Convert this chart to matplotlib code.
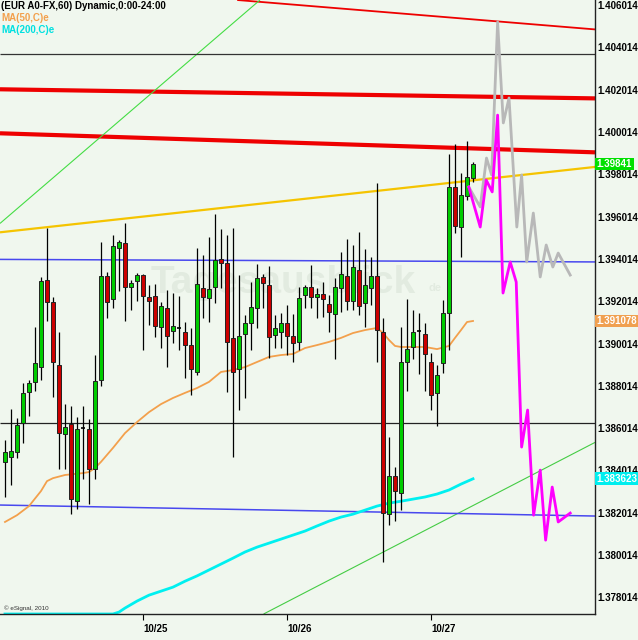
import numpy as np
import matplotlib.pyplot as plt

# hourly EUR/USD bars (bar index 0 = first bar on the chart)
opens = [1.38442, 1.38465, 1.38489, 1.38626, 1.38773, 1.38820, 1.38890, 1.39301, 1.39198, 1.38899,
         1.38573, 1.38621, 1.38256, 1.38602, 1.38597, 1.38408, 1.38829, 1.39321, 1.39212, 1.39452,
         1.39477, 1.39268, 1.39296, 1.39325, 1.39221, 1.39226, 1.39079, 1.39169, 1.39060, 1.39075,
         1.39056, 1.38994, 1.38867, 1.39263, 1.39216, 1.39268, 1.39401, 1.39382, 1.39028, 1.38881,
         1.39046, 1.39098, 1.39169, 1.39316, 1.39277, 1.39041, 1.39056, 1.39098, 1.39037, 1.39009,
         1.39230, 1.39268, 1.39221, 1.39235, 1.39188, 1.39141, 1.39263, 1.39321, 1.39202, 1.39349,
         1.39193, 1.39263, 1.39321, 1.39056, 1.38195, 1.38375, 1.38295, 1.38914, 1.38985, 1.39060,
         1.39046, 1.38914, 1.38768, 1.38909, 1.39146, 1.39741, 1.39552, 1.39699, 1.39784]
highs = [1.38545, 1.38691, 1.38649, 1.38815, 1.38829, 1.39079, 1.39316, 1.39547, 1.39221, 1.39056,
         1.38715, 1.38706, 1.38654, 1.38706, 1.38645, 1.38947, 1.39482, 1.39340, 1.39514, 1.39491,
         1.39571, 1.39301, 1.39335, 1.39330, 1.39277, 1.39282, 1.39198, 1.39254, 1.39240, 1.39226,
         1.39103, 1.39075, 1.39452, 1.39419, 1.39505, 1.39613, 1.39543, 1.39514, 1.39547, 1.39325,
         1.39136, 1.39292, 1.39377, 1.39330, 1.39368, 1.39136, 1.39146, 1.39183, 1.39141, 1.39268,
         1.39277, 1.39372, 1.39263, 1.39292, 1.39230, 1.39311, 1.39434, 1.39496, 1.39467, 1.39529,
         1.39448, 1.39410, 1.39760, 1.39122, 1.38559, 1.38418, 1.39079, 1.39212, 1.39160, 1.39146,
         1.39098, 1.38957, 1.38899, 1.39207, 1.39897, 1.39944, 1.39807, 1.39958, 1.39859]
lows = [1.38276, 1.38332, 1.38460, 1.38531, 1.38659, 1.38777, 1.38829, 1.39107, 1.38749, 1.38408,
        1.38408, 1.38195, 1.38219, 1.38361, 1.38242, 1.38361, 1.38801, 1.39122, 1.39169, 1.39249,
        1.39107, 1.39160, 1.39202, 1.38971, 1.39089, 1.39032, 1.38980, 1.38890, 1.39004, 1.38971,
        1.38838, 1.38758, 1.38852, 1.39122, 1.39103, 1.39193, 1.39263, 1.38773, 1.38465, 1.38687,
        1.38744, 1.38971, 1.39075, 1.39169, 1.38933, 1.38980, 1.38980, 1.38947, 1.38914, 1.38971,
        1.39169, 1.39169, 1.39122, 1.39127, 1.39056, 1.38928, 1.39150, 1.39160, 1.39160, 1.39136,
        1.39079, 1.39183, 1.38914, 1.37969, 1.38143, 1.38162, 1.38214, 1.38777, 1.38928, 1.38857,
        1.38777, 1.38687, 1.38611, 1.38862, 1.38971, 1.39524, 1.39410, 1.39680, 1.39765]
closes = [1.38489, 1.38493, 1.38616, 1.38768, 1.38815, 1.38909, 1.39296, 1.39198, 1.38914, 1.38578,
          1.38607, 1.38266, 1.38597, 1.38603, 1.38408, 1.38824, 1.39321, 1.39198, 1.39462, 1.39482,
          1.39268, 1.39287, 1.39325, 1.39226, 1.39202, 1.39084, 1.39179, 1.39037, 1.39084, 1.39076,
          1.38994, 1.38881, 1.39282, 1.39221, 1.39259, 1.39396, 1.39382, 1.39009, 1.38867, 1.39037,
          1.39098, 1.39174, 1.39311, 1.39287, 1.39032, 1.39075, 1.39098, 1.39037, 1.39004, 1.39216,
          1.39268, 1.39221, 1.39235, 1.39212, 1.39150, 1.39268, 1.39330, 1.39202, 1.39363, 1.39179,
          1.39277, 1.39321, 1.39065, 1.38200, 1.38375, 1.38304, 1.38914, 1.38975, 1.39056, 1.39061,
          1.38952, 1.38758, 1.38852, 1.39146, 1.39741, 1.39557, 1.39703, 1.39788, 1.39850]

# moving averages
ma50_idx = [0, 2, 4, 6, 7, 8, 10, 13, 14, 15, 16, 18, 20, 22, 24, 26, 28, 30, 32, 34,
            36, 38, 40, 42, 44, 46, 48, 50, 52, 54, 56, 58, 60, 62, 63, 64, 65, 66, 70, 72,
            74, 75, 76, 77, 78]
ma50_val = [1.38158, 1.38190, 1.38233, 1.38304, 1.38351, 1.38365, 1.38380, 1.38389, 1.38394, 1.38413,
            1.38442, 1.38508, 1.38578, 1.38630, 1.38677, 1.38715, 1.38744, 1.38768, 1.38791, 1.38820,
            1.38867, 1.38876, 1.38890, 1.38914, 1.38938, 1.38947, 1.38952, 1.38980, 1.38994, 1.39009,
            1.39028, 1.39051, 1.39065, 1.39075, 1.39051, 1.39018, 1.38990, 1.38985, 1.38985, 1.38975,
            1.38990, 1.39028, 1.39065, 1.39103, 1.39108]
ma200_idx = [0, 18, 19, 20, 22, 24, 26, 28, 30, 32, 34, 36, 38, 40, 42, 44, 46, 48, 50, 52,
             54, 56, 58, 60, 62, 64, 66, 68, 70, 72, 74, 76, 78]
ma200_val = [1.37723, 1.37723, 1.37732, 1.37751, 1.37784, 1.37812, 1.37831, 1.37850, 1.37878, 1.37903,
             1.37931, 1.37959, 1.37987, 1.38016, 1.38039, 1.38058, 1.38077, 1.38096, 1.38115, 1.38139,
             1.38162, 1.38181, 1.38195, 1.38214, 1.38233, 1.38247, 1.38256, 1.38266, 1.38276, 1.38290,
             1.38309, 1.38337, 1.38362]

# projected paths
magenta_idx = [77.3, 79.2, 80.2, 81.2, 82.1, 83.0, 84.2, 85.2, 86.1, 87.1, 88.1, 89.2, 90.1, 91.2, 92.2, 94.2]
magenta_val = [1.39741, 1.39552, 1.39774, 1.39718, 1.40081, 1.39240, 1.39387, 1.39292,
               1.38512, 1.38687, 1.38190, 1.38403, 1.38072, 1.38323, 1.38158, 1.38200]
gray_idx = [77.3, 79.2, 80.25, 81.1, 82.1, 83.05, 84.0, 85.3, 86.1, 86.95, 88.05, 89.2, 90.2, 91.3, 92.2, 94.2]
gray_val = [1.39741, 1.39647, 1.39878, 1.39798, 1.40521, 1.40044, 1.40162, 1.39552,
            1.39798, 1.39387, 1.39618, 1.39316, 1.39467, 1.39363, 1.39429, 1.39325]

# drawn trend lines: (x1, y1, x2, y2, colour, width)
trend_lines = [
    (38.7, 1.40625, 98.33, 1.40486, "#ee0000", 1.3),
    (-0.83, 1.40203, 98.33, 1.40160, "#ee0000", 3.0),
    (-0.83, 1.39995, 98.33, 1.39905, "#ee0000", 3.0),
    (-0.83, 1.39527, 98.33, 1.39836, "#f5c400", 1.6),
    (-0.83, 1.39569, 42.5, 1.40625, "#44dd44", 0.8),
    (43.1, 1.37723, 98.33, 1.38534, "#44cc44", 0.8),
    (-0.83, 1.39399, 98.33, 1.39387, "#4848ee", 1.1),
    (-0.83, 1.38238, 98.33, 1.38186, "#4848ee", 1.1),
    (-0.83, 1.40368, 98.33, 1.40368, "#333333", 0.9),
    (-0.83, 1.38624, 98.33, 1.38624, "#222222", 0.9),
]

yticks = [1.378014 + 0.002 * k for k in range(15)]
day_idx = [23, 47, 71]
day_labels = ["10/25", "10/26", "10/27"]

bg = "#f0f7ee"
plt.rcParams["font.family"] = ["Liberation Sans", "DejaVu Sans"]

fig = plt.figure(figsize=(6.38, 6.40), dpi=100, facecolor=bg)
ax = fig.add_axes([0, 26 / 640, 595 / 638, 614 / 640], facecolor=bg)

# watermark
ax.text(24.2, 1.39287, "Tagesausblick", fontsize=28, fontweight="bold",
        color="#e2ebe0", va="center", ha="left", zorder=0)
ax.text(70.5, 1.39262, "de", fontsize=8, fontweight="bold", color="#e2ebe0",
        va="center", zorder=0)

for x1, y1, x2, y2, c, lw in trend_lines:
    ax.plot([x1, x2], [y1, y2], color=c, lw=lw, zorder=1, solid_capstyle="butt")

ax.plot(ma50_idx, ma50_val, color="#f3a04c", lw=1.3, zorder=2)
ax.plot(ma200_idx, ma200_val, color="#00f0f0", lw=2.0, zorder=2)

# candles
o = np.array(opens)
h = np.array(highs)
l = np.array(lows)
c = np.array(closes)
x = np.arange(len(o))
ax.vlines(x, l, h, color="black", lw=0.9, zorder=3)
up = c >= o
doji = np.abs(c - o) < 0.00003
body_lo = np.minimum(o, c)
body_h = np.abs(c - o)
cols = np.where(up, "#00cc00", "#cc0000")
m = ~doji
ax.bar(x[m], body_h[m], bottom=body_lo[m], width=0.68, color=cols[m],
       edgecolor="#222222", linewidth=0.7, zorder=4)
ax.hlines(o[doji], x[doji] - 0.34, x[doji] + 0.34, color="black", lw=1.2, zorder=4)

ax.plot(gray_idx, gray_val, color="#b8b8b8", lw=2.0, zorder=5)
ax.plot(magenta_idx, magenta_val, color="#ff00ff", lw=2.0, zorder=6)

ax.set_xlim(-0.83, 98.33)
ax.set_ylim(1.37723, 1.40625)

for s in ["top", "left"]:
    ax.spines[s].set_visible(False)
for s in ["right", "bottom"]:
    ax.spines[s].set_color("#222222")
    ax.spines[s].set_linewidth(1.0)

ax.yaxis.tick_right()
ax.set_yticks(yticks)
ax.set_yticklabels(["%.6f" % v for v in yticks], fontsize=7, fontweight="bold")
ax.tick_params(axis="y", length=0, pad=2)
ax.set_xticks(day_idx)
ax.set_xticklabels(day_labels, fontsize=7, fontweight="bold")
for t in ax.get_xticklabels():
    t.set_horizontalalignment("left")
ax.tick_params(axis="x", length=4, width=0.8, pad=3)

# last-value boxes on the price scale
tr = ax.get_yaxis_transform()
for val, txt, fc in [(closes[-1], "1.39841", "#00e000"),
                     (ma50_val[-1], "1.391078", "#f0a050"),
                     (ma200_val[-1], "1.383623", "#00eeee")]:
    ax.text(1.003, val, txt, transform=tr, fontsize=7, fontweight="bold", color="white",
            ha="left", va="center", clip_on=False, zorder=10,
            bbox=dict(boxstyle="square,pad=0.15", fc=fc, ec="none"))

fig.text(0.002, 1 - 6 / 640, "(EUR A0-FX,60) Dynamic,0:00-24:00", fontsize=7,
         fontweight="bold", color="black", va="center")
fig.text(0.002, 1 - 18 / 640, "MA(50,C)e", fontsize=7, fontweight="bold",
         color="#f3a04c", va="center")
fig.text(0.002, 1 - 30 / 640, "MA(200,C)e", fontsize=7, fontweight="bold",
         color="#00e0e0", va="center")
fig.text(0.006, 1 - 608 / 640, "\u00a9 eSignal, 2010", fontsize=4.5, color="#333333",
         va="center")

fig.savefig("out.png", dpi=100, facecolor=bg)
